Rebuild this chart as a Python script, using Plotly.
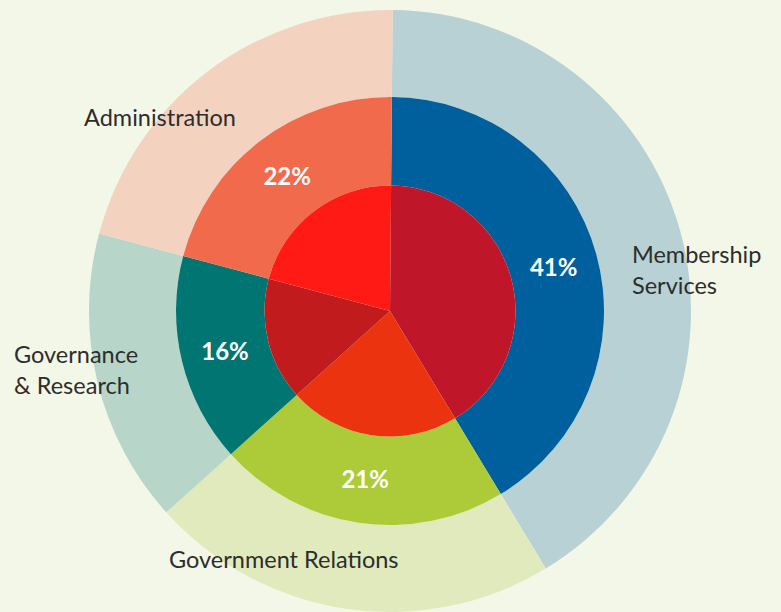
import plotly.graph_objects as go

# ---- data ----
departments = ["Membership Services", "Government Relations", "Governance & Research", "Administration"]
shares = [41.2, 22.0, 15.8, 21.0]          # angular share
pct_labels = ["41%", "21%", "16%", "22%"]   # printed labels

outer_colors = ["#B8D1D4", "#E1EABD", "#B7D5C8", "#F3D3BF"]
middle_colors = ["#00609E", "#ADCB38", "#007571", "#F26A4C"]
inner_colors = ["#BF1729", "#EB330F", "#C21B1D", "#FF1A15"]

BG = "#F3F7E7"
W, H = 781, 612
CX, CY = 390, 311          # pixel centre (from top-left)
R_OUT, R_MID, R_IN = 301, 214, 125.5


def dom(r):
    return dict(x=[(CX - r) / W, (CX + r) / W],
                y=[(H - CY - r) / H, (H - CY + r) / H])


common = dict(labels=departments, values=shares, sort=False, direction="clockwise",
              rotation=0.5, hoverinfo="skip", showlegend=False,
              marker_line_width=0)

fig = go.Figure()
fig.add_trace(go.Pie(domain=dom(R_OUT), hole=R_MID / R_OUT, textinfo="none",
                     marker_colors=outer_colors, **common))
fig.add_trace(go.Pie(domain=dom(R_MID), hole=R_IN / R_MID, textinfo="text",
                     text=["<b>%s</b>" % t for t in pct_labels],
                     textposition="inside", insidetextorientation="horizontal",
                     textfont=dict(family="Lato", size=24, color="white"),
                     marker_colors=middle_colors, **common))
fig.add_trace(go.Pie(domain=dom(R_IN), hole=0, textinfo="none",
                     marker_colors=inner_colors, **common))

label_font = dict(family="Lato", size=23.5, color="#2D2D2D")
label_specs = [
    ("Administration", 160, 117, "center"),
    ("Membership<br>Services", 630, 269, "left"),
    ("Governance<br>& Research", 12, 369, "left"),
    ("Government Relations", 284, 559, "center"),
]
for txt, px, py, anc in label_specs:
    fig.add_annotation(text=txt, x=px / W, y=1 - py / H, xref="paper", yref="paper",
                       xanchor=anc, yanchor="middle", align="left", showarrow=False,
                       font=label_font)

fig.update_layout(width=W, height=H, margin=dict(l=0, r=0, t=0, b=0),
                  paper_bgcolor=BG, plot_bgcolor=BG)

fig.write_html("out.html",
               config={"displayModeBar": False},
               post_script="document.body.style.margin='0';"
                           "document.body.style.overflow='hidden';"
                           "document.body.style.background='%s';" % BG)
